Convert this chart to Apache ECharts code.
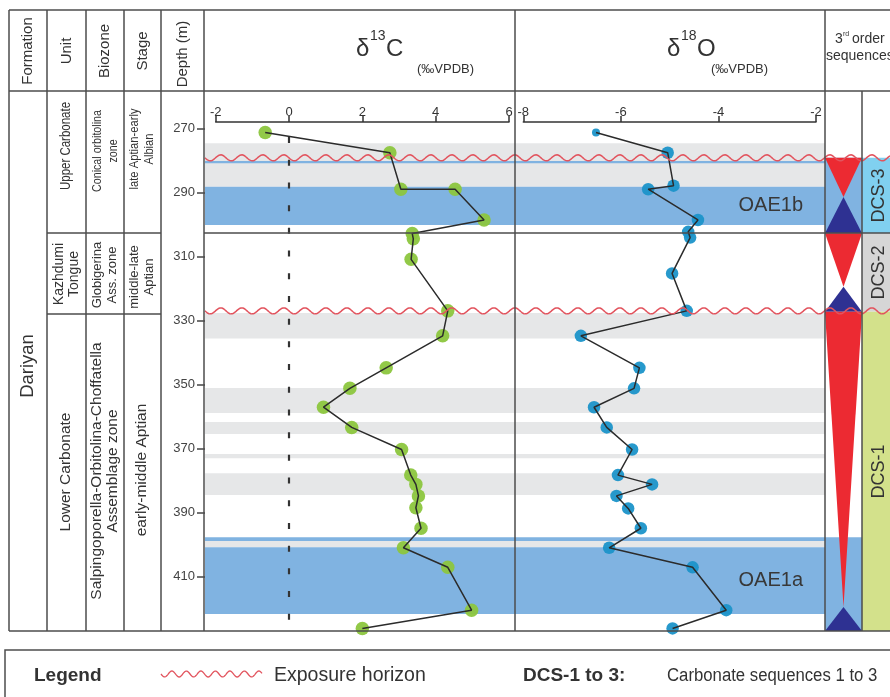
<!DOCTYPE html>
<html><head><meta charset="utf-8">
<script src="https://cdn.jsdelivr.net/npm/echarts@6/dist/echarts.min.js"></script>
<style>html,body{margin:0;padding:0;background:#fff}#c{width:890px;height:697px}</style>
</head><body><div id="c"></div><script>
// ---------------- data ----------------
const depthTicks = [270, 290, 310, 330, 350, 370, 390, 410];
const c13Ticks = [-2, 0, 2, 4, 6];
const o18Ticks = [-8, -6, -4, -2];

const c13Depth = [271.3, 277.6, 289.0, 289.0, 298.6, 302.8, 304.5, 310.9, 327.0, 334.8, 344.8, 351.2, 357.1, 363.4, 370.3, 378.3, 381.2, 384.8, 388.5, 394.9, 401.0, 407.1, 420.5, 426.2];
const c13Value = [-0.65, 2.75, 3.05, 4.53, 5.32, 3.36, 3.39, 3.33, 4.33, 4.19, 2.65, 1.66, 0.94, 1.71, 3.07, 3.32, 3.46, 3.53, 3.46, 3.60, 3.12, 4.33, 4.98, 2.00];

const o18Depth = [271.3, 277.6, 287.9, 289.0, 298.6, 302.3, 304.1, 315.3, 327.0, 334.8, 344.8, 351.2, 357.1, 363.4, 370.3, 378.3, 381.2, 384.8, 388.7, 394.9, 401.0, 407.1, 420.5, 426.2];
const o18Value = [-6.51, -5.04, -4.92, -5.44, -4.42, -4.62, -4.58, -4.95, -4.65, -6.82, -5.62, -5.73, -6.55, -6.29, -5.77, -6.06, -5.36, -6.09, -5.85, -5.59, -6.24, -4.53, -3.84, -4.94];

const exposureHorizons = [279.2, 327.0];
const grayBandTop = [274.6, 327.7, 351.1, 361.7, 371.7, 377.7, 398.9];
const grayBandBase = [288.2, 335.6, 358.9, 365.5, 373.0, 384.5, 400.8];
const blueBandTop = [280.2, 288.2, 397.7, 400.8];
const blueBandBase = [280.9, 300.2, 398.9, 421.7];
const blueBandName = ['', 'OAE1b', '', 'OAE1a'];
const seqNames = ['DCS-3', 'DCS-2', 'DCS-1'];
const seqTop = [279.2, 302.75, 327.3];
const seqTurn = [291.4, 319.5, 419.5];
const seqBase = [302.75, 327.3, 427];
const seqBlueTop = [279.2, 397.7];
const seqBlueBase = [302.75, 427];
const depthMin = 268, depthMax = 427;

// ---------------- styles ----------------
const FONT = '"Liberation Sans", Arial, sans-serif';
const LINE = '#4d4d4d';
const GRAY = '#e6e7e8';
const BLUE = '#80b3e1';
const RED = '#ec2a32';
const NAVY = '#2e3192';
const WAVE = '#e2545e';
const SEQ_FILL = ['#80d0f0', '#d6d6d6', '#d3e18b'];
const TOP = 122, H = 509;

const chart = echarts.init(document.getElementById('c'), null, {renderer: 'canvas'});

function yAx(idx, extra) {
  return Object.assign({type: 'value', gridIndex: idx, inverse: true, min: depthMin, max: depthMax, show: false}, extra || {});
}
function hiddenX(idx) { return {type: 'value', gridIndex: idx, min: 0, max: 1, show: false}; }

function renderWave(params, api) {
  const cs = params.coordSys;
  const y = api.coord([0, api.value(1)])[1];
  const pts = [];
  for (let x = cs.x; x <= cs.x + cs.width; x += 1) {
    pts.push([x, y + 3 * Math.sin((x - cs.x) / 21 * 2 * Math.PI)]);
  }
  return {type: 'polyline', shape: {points: pts}, style: {stroke: WAVE, lineWidth: 1.5, fill: null}};
}
function renderTri(params, api) {
  const cs = params.coordSys;
  const yT = api.coord([0, api.value(1)])[1];
  const yM = api.coord([0, api.value(2)])[1];
  const yB = api.coord([0, api.value(3)])[1];
  const l = cs.x, r = cs.x + cs.width, m = cs.x + cs.width / 2;
  return {type: 'group', children: [
    {type: 'polygon', shape: {points: [[l, yT], [r, yT], [m, yM]]}, style: {fill: RED}},
    {type: 'polygon', shape: {points: [[m, yM], [l, yB], [r, yB]]}, style: {fill: NAVY}}
  ]};
}
function renderSeq(params, api) {
  const cs = params.coordSys;
  const yT = api.coord([0, api.value(1)])[1];
  const yB = api.coord([0, api.value(3)])[1];
  const i = params.dataIndex;
  return {type: 'group', children: [
    {type: 'rect', shape: {x: cs.x, y: yT, width: cs.width, height: yB - yT}, style: {fill: SEQ_FILL[i]}},
    {type: 'text', x: cs.x + 17, y: (yT + yB) / 2, rotation: Math.PI / 2,
     style: {text: seqNames[i], align: 'center', verticalAlign: 'middle', fontSize: 18, fill: '#333', fontFamily: FONT}}
  ]};
}

const seqData = seqNames.map((n, i) => [0, seqTop[i], seqTurn[i], seqBase[i]]);

const option = {
  animation: false,
  textStyle: {fontFamily: FONT},
  grid: [
    {left: 205, top: TOP, width: 620, height: H, outerBoundsMode: 'none'},
    {left: 215.7, top: TOP, width: 293.3, height: H, outerBoundsMode: 'none'},
    {left: 523.3, top: TOP, width: 292.7, height: H, outerBoundsMode: 'none'},
    {left: 825, top: TOP, width: 37, height: H, outerBoundsMode: 'none'},
    {left: 862, top: TOP, width: 28, height: H, outerBoundsMode: 'none'},
    {left: 205, top: TOP, width: 685, height: H, outerBoundsMode: 'none'}
  ],
  xAxis: [
    hiddenX(0),
    {type: 'value', gridIndex: 1, position: 'top', min: -2, max: 6, interval: 2,
     axisLine: {show: true, lineStyle: {color: '#333', width: 1.5}},
     axisTick: {show: true, inside: false, length: 6, lineStyle: {color: '#333', width: 1.5}},
     axisLabel: {fontSize: 13, color: '#333', margin: 3, fontFamily: FONT, customValues: c13Ticks},
     splitLine: {show: false}},
    {type: 'value', gridIndex: 2, position: 'top', min: -8, max: -2, interval: 2,
     axisLine: {show: true, lineStyle: {color: '#333', width: 1.5}},
     axisTick: {show: true, inside: false, length: 6, lineStyle: {color: '#333', width: 1.5}},
     axisLabel: {fontSize: 13, color: '#333', margin: 3, fontFamily: FONT, customValues: o18Ticks},
     splitLine: {show: false}},
    hiddenX(3), hiddenX(4), hiddenX(5)
  ],
  yAxis: [
    yAx(0, {show: true, position: 'left',
      axisLine: {show: false},
      axisTick: {show: true, inside: false, length: 8, customValues: depthTicks, lineStyle: {color: '#444', width: 1.5}},
      axisLabel: {show: true, fontSize: 13, color: '#444', margin: 10, customValues: depthTicks, fontFamily: FONT},
      splitLine: {show: false}}),
    yAx(1), yAx(2), yAx(3), yAx(4), yAx(5)
  ],
  series: [
    {type: 'line', xAxisIndex: 0, yAxisIndex: 0, data: [], z: 1, silent: true,
     markArea: {silent: true, itemStyle: {color: GRAY},
       data: grayBandTop.map((t, i) => [{yAxis: t, x: 205}, {yAxis: grayBandBase[i], x: 825}])}},
    {type: 'line', xAxisIndex: 0, yAxisIndex: 0, data: [], z: 1.5, silent: true,
     markArea: {silent: true, itemStyle: {color: BLUE},
       label: {show: true, position: 'insideRight', distance: 22, fontSize: 20, color: '#383838', fontFamily: FONT},
       data: blueBandTop.map((t, i) => [{yAxis: t, x: 205, name: blueBandName[i]}, {yAxis: blueBandBase[i], x: 825}])}},
    {type: 'line', xAxisIndex: 3, yAxisIndex: 3, data: [], z: 1.5, silent: true,
     markArea: {silent: true, itemStyle: {color: BLUE},
       data: seqBlueTop.map((t, i) => [{yAxis: t}, {yAxis: seqBlueBase[i]}])}},
    {type: 'custom', xAxisIndex: 3, yAxisIndex: 3, data: seqData, encode: {x: 0, y: [1, 2, 3]},
     renderItem: renderTri, z: 3, silent: true},
    {type: 'custom', xAxisIndex: 4, yAxisIndex: 4, data: seqData, encode: {x: 0, y: [1, 2, 3]},
     renderItem: renderSeq, z: 3, silent: true},
    {type: 'scatter', xAxisIndex: 1, yAxisIndex: 1, z: 4, silent: true,
     data: c13Value.map((v, i) => [v, c13Depth[i]]),
     symbolSize: 13.5, itemStyle: {color: '#8cc63e', opacity: 0.95},
     markLine: {silent: true, symbol: ['none', 'none'], label: {show: false},
       lineStyle: {type: [6, 16.7], color: '#333', width: 2.2},
       data: [[{coord: [0, 272.7]}, {coord: [0, 427]}]]}},
    {type: 'line', xAxisIndex: 1, yAxisIndex: 1, z: 5, silent: true,
     data: c13Value.map((v, i) => [v, c13Depth[i]]),
     symbol: 'none', lineStyle: {color: '#2b2b2b', width: 1.5}},
    {type: 'scatter', xAxisIndex: 2, yAxisIndex: 2, z: 4, silent: true,
     data: o18Value.map((v, i) => [v, o18Depth[i]]),
     symbolSize: (val, p) => p.dataIndex === 0 ? 8 : 12.5, itemStyle: {color: '#1b93c9', opacity: 0.95}},
    {type: 'line', xAxisIndex: 2, yAxisIndex: 2, z: 5, silent: true,
     data: o18Value.map((v, i) => [v, o18Depth[i]]),
     symbol: 'none', lineStyle: {color: '#2b2b2b', width: 1.5}},
    {type: 'custom', xAxisIndex: 5, yAxisIndex: 5, data: exposureHorizons.map(d => [0, d]),
     encode: {x: 0, y: 1}, renderItem: renderWave, z: 6, silent: true}
  ],
  graphic: []
};

// ---------- table frame & text ----------
const G = option.graphic;
function ln(x1, y1, x2, y2, w) {
  G.push({type: 'line', z: 100, silent: true, shape: {x1, y1, x2, y2}, style: {stroke: LINE, lineWidth: w || 1.5}});
}
function tx(text, x, y, size, opts) {
  opts = opts || {};
  const el = {type: 'text', z: 100, silent: true, x, y,
    style: Object.assign({text, fontSize: size, fill: '#333', fontFamily: FONT, align: 'center', verticalAlign: 'middle', lineHeight: opts.lh || Math.round(size * 1.15)}, opts.style || {})};
  if (opts.rot) el.rotation = Math.PI / 2;
  if (opts.sx) el.scaleX = opts.sx;
  G.push(el);
}
ln(9, 10, 890, 10); ln(9, 91, 890, 91); ln(9, 631, 890, 631); ln(9, 10, 9, 631);
[47, 86, 124, 161, 204, 515, 825].forEach(x => ln(x, 10, x, 631));
ln(862, 91, 862, 631);
ln(47, 233, 161, 233); ln(47, 314, 161, 314);
ln(204, 233, 890, 233);

// header
tx('Formation', 28, 51, 15, {rot: 1});
tx('Unit', 67, 51, 15, {rot: 1});
tx('Biozone', 105, 51, 15, {rot: 1});
tx('Stage', 143, 51, 15, {rot: 1});
tx('Depth (m)', 183, 54, 15, {rot: 1});
tx('δ', 356, 49, 24, {style: {align: 'left'}});
tx('13', 370, 36, 14, {style: {align: 'left'}});
tx('C', 386, 49, 24, {style: {align: 'left'}});
tx('(‰VPDB)', 417, 69, 13, {style: {align: 'left'}});
tx('δ', 667, 49, 24, {style: {align: 'left'}});
tx('18', 681, 36, 14, {style: {align: 'left'}});
tx('O', 697, 49, 24, {style: {align: 'left'}});
tx('(‰VPDB)', 711, 69, 13, {style: {align: 'left'}});
tx('3', 835, 39, 14, {style: {align: 'left'}});
tx('rd', 843, 34, 7, {style: {align: 'left'}});
tx('order', 852, 39, 14, {style: {align: 'left'}});
tx('sequences', 826, 56, 14, {style: {align: 'left'}});

// left columns
tx('Dariyan', 28, 366, 18.5, {rot: 1});
tx('Upper Carbonate', 66, 146, 14, {rot: 1, sx: 0.82});
tx('Conical orbitolina\nzone', 105, 151, 13.5, {rot: 1, lh: 16, sx: 0.79});
tx('late Aptian-early\nAlbian', 142, 149, 13.5, {rot: 1, lh: 15, sx: 0.83});
tx('Kazhdumi\nTongue', 67, 274, 14, {rot: 1, lh: 15});
tx('Globigerina\nAss. zone', 105, 275, 13, {rot: 1, lh: 15});
tx('middle-late\nAptian', 142, 277, 13, {rot: 1, lh: 15});
tx('Lower Carbonate', 66, 472, 15.5, {rot: 1});
tx('Salpingoporella-Orbitolina-Choffatella\nAssemblage zone', 105, 471, 15.5, {rot: 1, lh: 16});
tx('early-middle Aptian', 142, 470, 15.5, {rot: 1});

// legend box
G.push({type: 'rect', z: 100, silent: true, shape: {x: 5, y: 650, width: 900, height: 80}, style: {fill: null, stroke: LINE, lineWidth: 1.5}});
tx('Legend', 34, 676, 19, {style: {align: 'left', fontWeight: 'bold'}});
(function () {
  const pts = [];
  for (let x = 161; x <= 262; x++) pts.push([x, 674 + 3 * Math.sin((x - 161) / 14.5 * 2 * Math.PI)]);
  G.push({type: 'polyline', z: 100, silent: true, shape: {points: pts}, style: {stroke: WAVE, lineWidth: 1.3, fill: null}});
})();
tx('Exposure horizon', 274, 676, 19.5, {style: {align: 'left'}});
tx('DCS-1 to 3:', 523, 676, 19, {style: {align: 'left', fontWeight: 'bold'}});
tx('Carbonate sequences 1 to 3', 667, 676, 18, {style: {align: 'left'}, sx: 0.93});

chart.setOption(option);
</script></body></html>
